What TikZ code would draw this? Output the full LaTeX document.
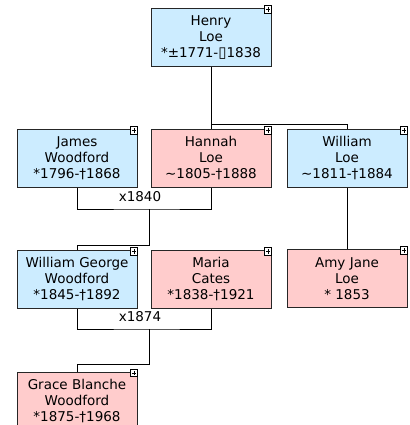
\documentclass[tikz,border=0pt]{standalone}
\usepackage{fontspec}
\setmainfont{DejaVu Sans}
\begin{document}
\begin{tikzpicture}[x=1pt,y=-1pt,
  person/.style={draw=black!85, line width=1pt, minimum width=120pt, minimum height=58pt,
    inner sep=0pt, align=center, font=\fontsize{13.5}{16}\selectfont},
  male/.style={person, fill=maleblue},
  female/.style={person, fill=femalepink},
  plusbox/.style={draw=black, fill=white, line width=0.8pt, minimum size=7.5pt, inner sep=0pt,
    path picture={\draw[line width=0.8pt] ([xshift=1.6pt]path picture bounding box.west) -- ([xshift=-1.6pt]path picture bounding box.east)
      ([yshift=-1.6pt]path picture bounding box.north) -- ([yshift=1.6pt]path picture bounding box.south);}},
  link/.style={draw=black, line width=1pt},
  mlabel/.style={font=\fontsize{13.5}{16}\selectfont, inner sep=1pt}
]
\definecolor{maleblue}{RGB}{204,236,255}
\definecolor{femalepink}{RGB}{255,204,204}
\useasboundingbox[fill=white] (0,0) rectangle (409,425);

% persons
\node[male] (henry) at (211,37.5) {Henry\\Loe\\*±1771-{\fontsize{15}{16}\selectfont▯}1838};
\node[male] (james) at (77,158.5) {James\\Woodford\\*1796-†1868};
\node[female] (hannah) at (211,158.5) {Hannah\\Loe\\\textasciitilde1805-†1888};
\node[male] (william) at (347,158.5) {William\\Loe\\\textasciitilde1811-†1884};
\node[male] (wg) at (77,279.5) {William George\\Woodford\\*1845-†1892};
\node[female] (maria) at (211,279.5) {Maria\\Cates\\*1838-†1921};
\node[female] (amy) at (347,278.5) {Amy Jane\\Loe\\* 1853};
\node[female] (grace) at (77,401) {Grace Blanche\\Woodford\\*1875-†1968};

% marriage labels
\node[mlabel] (x1) at (140,197) {x1840};
\node[mlabel] (x2) at (140,317) {x1874};

% junction coordinates
\coordinate (br) at (henry.south |- 0,124);
\coordinate (m1) at (149,209);
\coordinate (b1) at (149,245);
\coordinate (m2) at (149,329);
\coordinate (b2) at (149,364);

% connectors
\draw[link] (henry.south) -- (hannah.north);
\draw[link] (br) -| (william.north);
\draw[link] (william.south) -- (amy.north);
\draw[link] (james.south) |- (m1) -| (hannah.south);
\draw[link] (m1) -- (b1) -| (wg.north);
\draw[link] (wg.south) |- (m2) -| (maria.south);
\draw[link] (m2) -- (b2) -| (grace.north);

% plus marks
\foreach \p in {henry,james,hannah,william,wg,maria,amy,grace}{
  \node[plusbox] (plus-\p) at ([xshift=-3.5pt,yshift=-1.5pt]\p.north east) {};
}
\end{tikzpicture}
\end{document}
